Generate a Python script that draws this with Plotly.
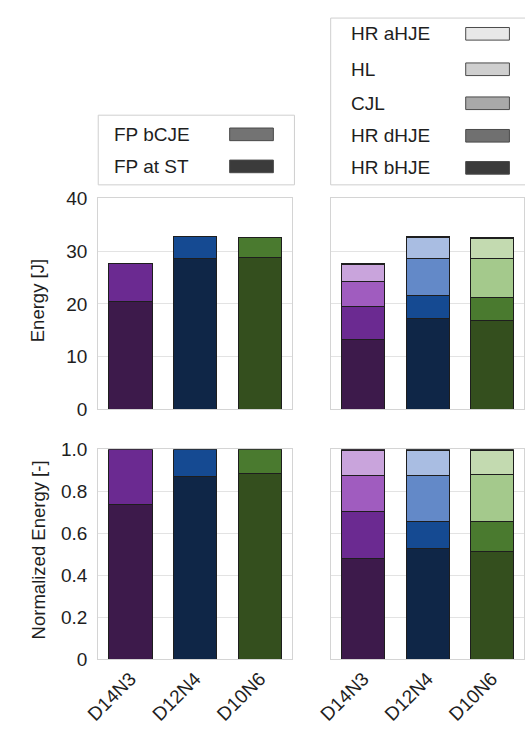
import plotly.graph_objects as go

# ---- data -----------------------------------------------------------------
designs = ["D14N3", "D12N4", "D10N6"]

# left panel: energy split [J]
fp_at_st = [20.4, 28.6, 28.7]
fp_bcje = [7.3, 4.2, 3.8]

# right panel: energy split [J], listed bottom -> top
hr_bhje = [13.3, 17.3, 16.75]
hr_dhje = [6.2, 4.25, 4.5]
cjl = [4.75, 7.1, 7.35]
hl = [3.25, 3.9, 3.75]
hr_ahje = [0.2, 0.25, 0.15]

y_ticks_energy = [0, 10, 20, 30, 40]
y_ticks_norm = [0, 0.2, 0.4, 0.6, 0.8, 1.0]
y_ticktext_norm = ["0", "0.2", "0.4", "0.6", "0.8", "1.0"]

# ---- colours (one shade family per design, dark -> light) ------------------
shades = {
    "D14N3": ["#3d1a4b", "#6b2a91", "#a05cbf", "#c9a4dc", "#6e4f7c"],
    "D12N4": ["#0f2647", "#154a92", "#6389c8", "#a9bde2", "#7d889c"],
    "D10N6": ["#344f1e", "#4a7a2f", "#a4c98c", "#c3dab0", "#4f5c44"],
}
legend_grays = ["#3b3b3b", "#707070", "#a9a9a9", "#cfcfcf", "#e8e8e8"]

FONT = "Liberation Sans, Arial, sans-serif"
TXT = "#1e1e1e"
TICK_SIZE = 19
TITLE_SIZE = 18.5
LEG_SIZE = 19

left_stack = [("FP at ST", fp_at_st, 0),
              ("FP bCJE", fp_bcje, 1)]
right_stack = [("HR bHJE", hr_bhje, 0), ("HR dHJE", hr_dhje, 1),
               ("CJL", cjl, 2), ("HL", hl, 3), ("HR aHJE", hr_ahje, 4)]

left_total = [sum(v) for v in zip(fp_at_st, fp_bcje)]
right_total = [sum(v) for v in zip(hr_bhje, hr_dhje, cjl, hl, hr_ahje)]

fig = go.Figure()


def add_stack(stack, totals, xa_top, ya_top, xa_bot, ya_bot):
    for name, vals, shade in stack:
        cols = [shades[d][shade] for d in designs]
        common = dict(x=designs, width=0.67, showlegend=False, name=name,
                      marker=dict(color=cols, line=dict(color="#1e1e1e", width=1)))
        fig.add_trace(go.Bar(y=vals, xaxis=xa_top, yaxis=ya_top, **common))
        fig.add_trace(go.Bar(y=[v / t for v, t in zip(vals, totals)],
                             xaxis=xa_bot, yaxis=ya_bot, **common))


add_stack(left_stack, left_total, "x", "y", "x3", "y3")
add_stack(right_stack, right_total, "x2", "y2", "x4", "y4")

W, H = 525, 734
xl = [86.7 / W, 286.5 / W]
xr = [326.6 / W, 1.0]
yt = [1 - 411 / H, 1 - 194 / H]
yb = [1 - 668.3 / H, 1 - 452.3 / H]

xbase = dict(range=[-0.5, 2.5], showgrid=False, showline=True, mirror=True,
             linecolor="#d4d4d4", linewidth=1, ticks="", zeroline=False,
             tickfont=dict(family=FONT, size=TICK_SIZE, color=TXT))
ybase = dict(showgrid=True, gridcolor="#e3e3e3", gridwidth=1, showline=True,
             mirror=True, linecolor="#d4d4d4", linewidth=1, ticks="",
             zeroline=False, tickfont=dict(family=FONT, size=TICK_SIZE, color=TXT),
             ticklabelstandoff=6)

fig.update_layout(
    width=W, height=H, margin=dict(l=0, r=0, t=0, b=0),
    paper_bgcolor="white", plot_bgcolor="white", barmode="stack",
    showlegend=False,
    font=dict(family=FONT, color=TXT),
    xaxis=dict(xbase, domain=xl, anchor="y", showticklabels=False),
    xaxis2=dict(xbase, domain=xr, anchor="y2", showticklabels=False),
    xaxis3=dict(xbase, domain=xl, anchor="y3", tickangle=-45),
    xaxis4=dict(xbase, domain=xr, anchor="y4", tickangle=-45),
    yaxis=dict(ybase, domain=yt, anchor="x", range=[0, 40],
               tickvals=y_ticks_energy),
    yaxis2=dict(ybase, domain=yt, anchor="x2", range=[0, 40],
                tickvals=y_ticks_energy, showticklabels=False),
    yaxis3=dict(ybase, domain=yb, anchor="x3", range=[0, 1.0],
                tickvals=y_ticks_norm, ticktext=y_ticktext_norm),
    yaxis4=dict(ybase, domain=yb, anchor="x4", range=[0, 1.0],
                tickvals=y_ticks_norm, showticklabels=False),
)

# axis titles
for txt, yc in [("Energy [J]", 299.5), ("Normalized Energy [-]", 556)]:
    fig.add_annotation(text=txt, xref="paper", yref="paper", x=25 / W,
                       y=1 - yc / H, showarrow=False, textangle=-90,
                       font=dict(family=FONT, size=TITLE_SIZE, color=TXT),
                       xanchor="center", yanchor="middle")


# ---- legend boxes drawn in pixel units ---------------------------------------
def px_x(v):
    return v / W


def px_y(v):
    return 1 - v / H


def legend_box(x0, y0, x1, y1, items, text_x, sw_x0, sw_x1):
    fig.add_shape(type="rect", xref="paper", yref="paper",
                  x0=px_x(x0), x1=px_x(x1), y0=px_y(y1), y1=px_y(y0),
                  line=dict(color="#cfcfcf", width=1), fillcolor="white")
    for label, color, yc in items:
        fig.add_annotation(text=label, xref="paper", yref="paper",
                           x=px_x(text_x), y=px_y(yc), showarrow=False,
                           xanchor="left", yanchor="middle",
                           font=dict(family=FONT, size=LEG_SIZE, color=TXT))
        fig.add_shape(type="rect", xref="paper", yref="paper",
                      x0=px_x(sw_x0), x1=px_x(sw_x1),
                      y0=px_y(yc + 6.5), y1=px_y(yc - 6.5),
                      line=dict(color="#4a4a4a", width=1), fillcolor=color)


legend_box(86.7, 108.3, 288.7, 180,
           [("FP bCJE", "#737373", 128), ("FP at ST", "#3b3b3b", 161)],
           101, 222, 267)

right_names = [e[0] for e in right_stack][::-1]
right_cols = legend_grays[::-1]
right_y = [24.5, 61, 96, 129.5, 162.5]
legend_box(326, 8.3, 530, 180,
           list(zip(right_names, right_cols, right_y)), 345, 465, 510)

fig.write_html("out.html")
